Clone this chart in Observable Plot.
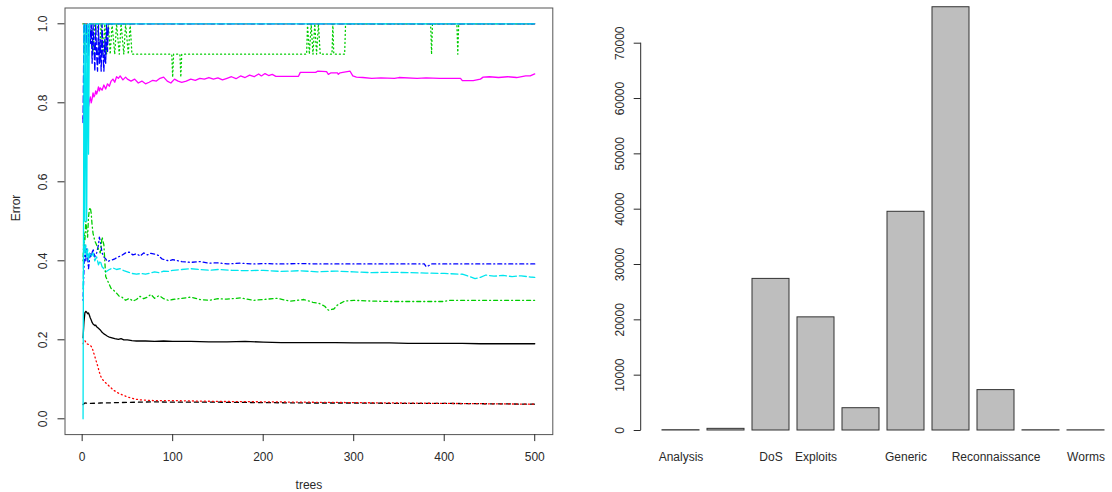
<!DOCTYPE html>
<html><head><meta charset="utf-8">
<script src="https://cdn.jsdelivr.net/npm/d3@7"></script>
<script src="https://cdn.jsdelivr.net/npm/@observablehq/plot@0.6"></script>
<style>
body{margin:0;background:#fff;}
#wrap{display:flex;width:1112px;height:492px;overflow:hidden;background:#fff;}
#wrap svg{font-family:"Liberation Sans",Arial,sans-serif;flex:none;}
</style></head><body><div id="wrap"></div>
<script>
// ---------- left chart: random forest error rates vs number of trees ----------
const xTicks = [0, 100, 200, 300, 400, 500];
const yTicks = [0.0, 0.2, 0.4, 0.6, 0.8, 1.0];
const xLabel = "trees";
const yLabel = "Error";

const oob = [[1,0.205],[2,0.245],[3,0.268],[4,0.272],[5,0.27],[6,0.266],[7,0.268],[8,0.262],[9,0.255],[10,0.25],[11,0.244],[12,0.24],[13,0.238],[14,0.236],[15,0.237],[16,0.233],[18,0.229],[20,0.225],[22,0.219],[24,0.215],[26,0.212],[28,0.209],[30,0.207],[33,0.205],[36,0.203],[40,0.201],[43,0.203],[46,0.2],[50,0.2],[55,0.198],[60,0.197],[70,0.197],[80,0.196],[90,0.197],[100,0.196],[120,0.196],[140,0.195],[160,0.195],[180,0.196],[200,0.194],[220,0.193],[240,0.193],[260,0.193],[280,0.193],[300,0.192],[320,0.192],[340,0.192],[360,0.191],[380,0.191],[400,0.191],[420,0.191],[440,0.19],[460,0.19],[480,0.19],[500,0.19]];
const analysis = [[1,1],[500,1]];
const backdoor = [[1,1],[2,1],[3,0.923],[4,1],[5,1],[6,0.923],[8,1],[10,1],[12,0.923],[14,1],[17,1],[19,0.923],[21,1],[23,0.923],[25,1],[27,0.923],[29,1],[31,0.923],[33,1],[36,0.923],[38,1],[41,0.923],[43,1],[46,0.923],[48,1],[51,0.923],[53,1],[55,0.923],[99,0.923],[100,0.865],[101,0.923],[108,0.923],[109,0.865],[110,0.923],[248,0.923],[249,1],[251,0.923],[253,1],[255,0.923],[257,1],[259,0.923],[261,1],[263,0.923],[276,0.923],[277,1],[278,0.923],[290,0.923],[291,1],[385,1],[386,0.923],[387,1],[414,1],[415,0.923],[416,1],[500,1]];
const dos = [[1,0.3],[2,0.38],[3,0.44],[4,0.4],[5,0.43],[6,0.41],[7,0.38],[8,0.4],[9,0.42],[10,0.41],[12,0.43],[14,0.41],[16,0.42],[18,0.44],[19,0.46],[20,0.45],[22,0.42],[24,0.41],[26,0.405],[28,0.398],[30,0.4],[33,0.402],[36,0.405],[40,0.41],[44,0.414],[48,0.42],[52,0.422],[56,0.415],[60,0.418],[64,0.412],[68,0.42],[72,0.415],[76,0.419],[80,0.417],[84,0.414],[88,0.405],[92,0.402],[96,0.4],[100,0.403],[110,0.398],[120,0.396],[130,0.398],[140,0.394],[150,0.395],[160,0.392],[175,0.394],[190,0.392],[200,0.393],[220,0.392],[240,0.393],[260,0.392],[300,0.392],[340,0.392],[378,0.392],[380,0.385],[383,0.388],[386,0.392],[420,0.392],[460,0.392],[500,0.392]];
const exploits = [[1,0.33],[2,0.46],[3,0.42],[4,0.44],[5,0.41],[6,0.43],[7,0.4],[8,0.42],[10,0.41],[12,0.42],[14,0.4],[16,0.41],[18,0.39],[20,0.4],[22,0.385],[24,0.38],[26,0.372],[28,0.375],[30,0.378],[34,0.382],[38,0.378],[42,0.38],[46,0.375],[50,0.372],[55,0.368],[60,0.366],[65,0.368],[70,0.366],[75,0.369],[80,0.372],[85,0.37],[90,0.374],[95,0.373],[100,0.376],[110,0.378],[120,0.38],[130,0.378],[140,0.376],[150,0.378],[165,0.376],[180,0.375],[200,0.376],[220,0.373],[240,0.375],[260,0.372],[280,0.374],[300,0.372],[320,0.37],[340,0.371],[360,0.37],[380,0.369],[400,0.368],[420,0.366],[428,0.36],[434,0.355],[440,0.358],[446,0.364],[455,0.361],[465,0.363],[475,0.36],[485,0.362],[495,0.359],[500,0.358]];
const fuzzers = [[1,0.76],[2,0.78],[3,0.775],[4,0.79],[5,0.785],[6,0.8],[7,0.79],[8,0.805],[9,0.815],[10,0.8],[11,0.81],[12,0.825],[13,0.815],[14,0.82],[15,0.83],[16,0.822],[17,0.83],[18,0.84],[19,0.83],[20,0.838],[22,0.832],[24,0.845],[26,0.835],[28,0.848],[30,0.842],[32,0.855],[34,0.86],[36,0.852],[38,0.866],[40,0.862],[42,0.868],[45,0.858],[48,0.865],[50,0.86],[54,0.855],[58,0.86],[62,0.85],[66,0.855],[70,0.848],[74,0.852],[78,0.857],[82,0.855],[86,0.862],[90,0.865],[94,0.855],[98,0.85],[102,0.86],[106,0.855],[110,0.852],[115,0.855],[120,0.86],[125,0.857],[130,0.862],[135,0.86],[140,0.864],[145,0.86],[150,0.863],[155,0.858],[160,0.862],[165,0.866],[170,0.861],[175,0.868],[180,0.864],[185,0.87],[190,0.866],[195,0.873],[198,0.868],[202,0.874],[206,0.869],[210,0.872],[214,0.867],[239,0.867],[241,0.877],[258,0.877],[260,0.88],[270,0.879],[272,0.872],[275,0.876],[282,0.876],[283,0.872],[285,0.876],[288,0.877],[296,0.88],[299,0.868],[303,0.865],[310,0.864],[320,0.862],[330,0.863],[345,0.862],[350,0.864],[370,0.862],[380,0.863],[395,0.862],[418,0.862],[420,0.856],[432,0.856],[436,0.858],[440,0.86],[443,0.865],[450,0.866],[460,0.864],[470,0.866],[480,0.864],[490,0.868],[495,0.868],[500,0.873]];
const generic = [[1,0.036],[3,0.04],[10,0.039],[20,0.04],[40,0.041],[60,0.042],[80,0.043],[100,0.042],[150,0.042],[200,0.041],[250,0.04],[300,0.04],[350,0.039],[400,0.039],[450,0.038],[500,0.037]];
const normal = [[1,0.19],[2,0.195],[3,0.198],[5,0.19],[7,0.188],[9,0.186],[11,0.18],[13,0.165],[15,0.15],[17,0.135],[19,0.118],[21,0.105],[24,0.095],[28,0.087],[31,0.08],[35,0.072],[40,0.065],[46,0.059],[52,0.054],[58,0.05],[64,0.048],[80,0.046],[100,0.046],[150,0.044],[200,0.043],[250,0.042],[300,0.041],[350,0.04],[400,0.039],[450,0.038],[500,0.037]];
const reconnaissance = [[1,0.4],[2,0.47],[3,0.45],[4,0.5],[5,0.48],[6,0.46],[7,0.51],[8,0.53],[9,0.535],[10,0.52],[11,0.49],[12,0.47],[13,0.46],[14,0.45],[16,0.44],[18,0.43],[20,0.42],[22,0.46],[23,0.45],[24,0.44],[25,0.4],[26,0.36],[28,0.35],[30,0.34],[32,0.33],[35,0.325],[38,0.318],[41,0.31],[44,0.308],[48,0.3],[52,0.305],[56,0.298],[60,0.302],[64,0.31],[68,0.304],[72,0.308],[76,0.315],[80,0.305],[85,0.312],[90,0.304],[95,0.3],[100,0.302],[110,0.305],[120,0.308],[130,0.302],[140,0.3],[150,0.304],[160,0.303],[175,0.306],[190,0.3],[200,0.302],[215,0.305],[230,0.298],[245,0.302],[255,0.295],[262,0.292],[268,0.285],[272,0.275],[278,0.278],[282,0.288],[290,0.298],[300,0.3],[320,0.298],[340,0.297],[380,0.297],[400,0.297],[405,0.3],[430,0.3],[460,0.3],[500,0.3]];
const shellcode = [[1,0.75],[2,1],[3,1],[4,0.9],[5,1],[6,1],[7,0.92],[8,1],[9,0.95],[10,1],[11,0.9],[12,1],[13,0.95],[14,0.88],[15,1],[16,0.92],[17,0.88],[18,1],[19,0.9],[20,0.96],[21,0.88],[22,1],[23,0.92],[24,0.88],[25,0.96],[26,0.9],[27,1],[28,0.93],[29,1],[500,1]];
const worms = [[1,0],[2,1],[3,0.5],[4,1],[5,0.5],[6,1],[7,0.67],[8,1],[500,1]];

const seriesNames = ["OOB","Analysis","Backdoor","DoS","Exploits","Fuzzers","Generic","Normal","Reconnaissance","Shellcode","Worms"];
const seriesData = [oob, analysis, backdoor, dos, exploits, fuzzers, generic, normal, reconnaissance, shellcode, worms];

// R default palette (col = 1:6) and line types (lty = 1:5), recycled as matplot does
const palette = ["#000000", "#FF0000", "#00CD00", "#0000FF", "#00E5EE", "#FF00FF"];
const dashes = ["none", "4,4", "1,3", "1,3,4,3", "7,3"];

// ---------- right chart: counts by attack category ----------
const categories = ["Analysis","Backdoor","DoS","Exploits","Fuzzers","Generic","Normal","Reconnaissance","Shellcode","Worms"];
const counts = [50, 300, 27400, 20450, 4030, 39530, 76500, 7300, 40, 30];
const shownLabels = ["Analysis","DoS","Exploits","Generic","Reconnaissance","Worms"];
const countTicks = [0, 10000, 20000, 30000, 40000, 50000, 60000, 70000];

const ink = "#2a2a2a";
const font = "12px";

const left = Plot.plot({
  width: 560, height: 492,
  marginLeft: 64.5, marginRight: 7.7, marginTop: 7.5, marginBottom: 57.9,
  style: {fontSize: font, color: ink, background: "#fff"},
  x: {domain: [-18.96, 519.96]},
  y: {domain: [-0.04, 1.04]},
  marks: [
    ...seriesData.map((s, i) => Plot.line(s, {
      x: d => d[0], y: d => d[1],
      stroke: palette[i % 6], strokeDasharray: dashes[i % 5], strokeWidth: 1.3
    })),
    Plot.frame({stroke: "#555"}),
    Plot.axisX({ticks: xTicks, tickSize: 7, tickPadding: 11, label: null, tickFormat: d => String(d)}),
    Plot.axisY({ticks: yTicks, tickSize: 7, label: null, tickFormat: () => ""}),
    Plot.text(yTicks, {y: d => d, frameAnchor: "left", text: d => d.toFixed(1), rotate: -90, dx: -21.8, textAnchor: "middle", lineAnchor: "middle", fill: ink}),
    Plot.text([xLabel], {frameAnchor: "bottom", text: d => d, dy: 51, lineAnchor: "middle", fill: ink}),
    Plot.text([yLabel], {frameAnchor: "left", text: d => d, rotate: -90, dx: -48.5, lineAnchor: "middle", fill: ink})
  ]
});

const right = Plot.plot({
  width: 552, height: 492,
  marginLeft: 80.7, marginRight: 0, marginTop: 42.7, marginBottom: 62,
  style: {fontSize: font, color: ink, background: "#fff"},
  x: {domain: categories, range: [98, 549], paddingInner: 0.1667, paddingOuter: 0},
  y: {domain: [0, 70000]},
  marks: [
    Plot.barY(categories.map((c, i) => ({category: c, count: counts[i]})), {
      x: "category", y: "count", fill: "#BEBEBE", stroke: "#333", strokeWidth: 1
    }),
    Plot.axisY({ticks: countTicks, tickSize: 7, label: null, tickFormat: () => ""}),
    (index, scales, values, dims) => d3.create("svg:line")
      .attr("x1", dims.marginLeft).attr("x2", dims.marginLeft)
      .attr("y1", scales.y(d3.min(countTicks))).attr("y2", scales.y(d3.max(countTicks)))
      .attr("stroke", ink).node(),
    Plot.text(countTicks, {y: d => d, frameAnchor: "left", text: d => String(d), rotate: -90, dx: -20.7, textAnchor: "middle", lineAnchor: "middle", fill: ink}),
    Plot.axisX({tickSize: 0, tickPadding: 21.5, label: null, tickFormat: d => shownLabels.includes(d) ? d : ""})
  ]
});

document.getElementById("wrap").append(left, right);
</script></body></html>
